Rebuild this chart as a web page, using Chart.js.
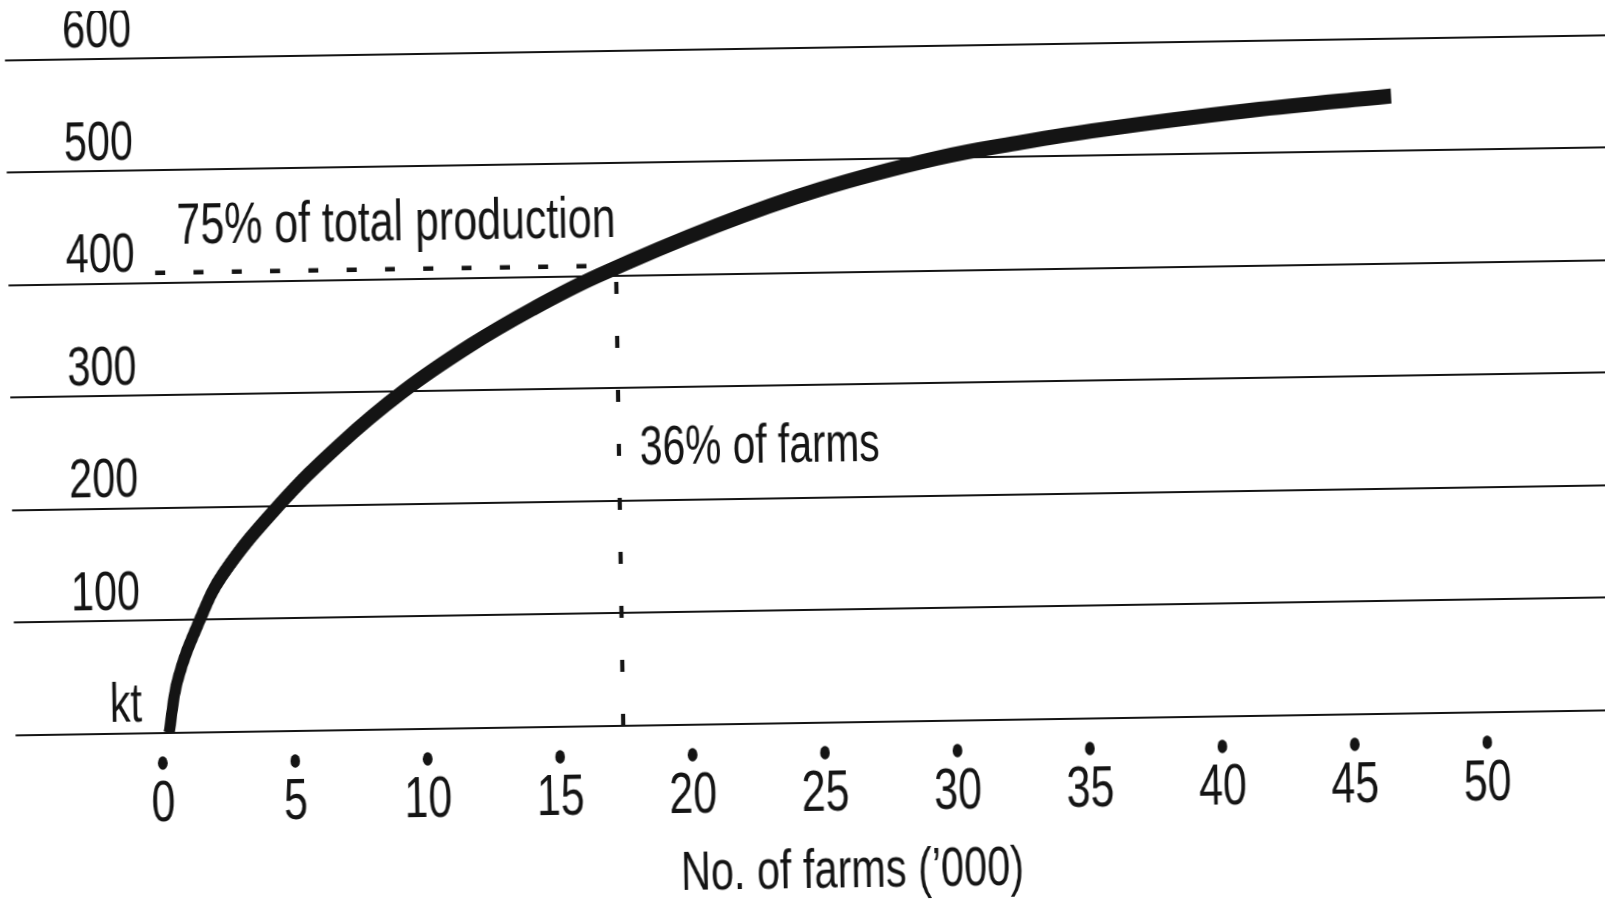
<!DOCTYPE html>
<html>
<head>
<meta charset="utf-8">
<script src="https://cdn.jsdelivr.net/npm/chart.js@4/dist/chart.umd.min.js"></script>
<style>
  html, body { margin: 0; padding: 0; background: #ffffff; overflow: hidden; width: 1605px; height: 907px; }
  /* the scanned original is slightly tilted and horizontally compressed */
  #wrap { position: absolute; left: 0; top: 0; width: 1680px; height: 907px;
          transform-origin: 802.5px 453.5px; transform: rotate(-0.9deg); }
  canvas { display: block; width: 2270px; height: 907px; transform-origin: 0 0; transform: scaleX(0.74); }
</style>
</head>
<body>
<div id="wrap"><canvas id="c" width="2270" height="907"></canvas></div>
<script>
// ---- data ----
const farms      = [0.25, 0.62, 1.48, 2.37, 4.5, 6.87, 9.28, 11.84, 14.25, 16.68, 21.2, 25.15, 29.58, 32.8, 35.76, 41.42, 46.76]; // '000 farms
const production = [0,    48,   100,  140,  200, 254,  300,  340,   372,   400,   443,  474,   500,   513,  523,   538,   549];   // kt
const xTicks = [0, 5, 10, 15, 20, 25, 30, 35, 40, 45, 50];
const yTicks = [0, 100, 200, 300, 400, 500, 600];
const yTickLabels = ['kt', '100', '200', '300', '400', '500', '600'];
const thresholdFarms = 17.4;        // 36% of farms
const thresholdProduction = 409;    // 75% of total production
const labelProduction = '75% of total production';
const labelFarms = '36% of farms';
const xTitle = "No. of farms (\u2019000)";

// ---- styling ----
const K = 0.74;                      // horizontal compression applied by CSS
const FONT = "'Liberation Sans', Arial, sans-serif";
const INK = '#141414';
const AREA_LEFT = 12 / K;
const Y_LABEL_RIGHT = 138 / K;
const yTickFont = { family: FONT, size: 56, lineHeight: 1 };
const xTickFont = { family: FONT, size: 58, lineHeight: 1 };

const mctx = document.createElement('canvas').getContext('2d');
mctx.font = '56px ' + FONT;
const widest = Math.max(...yTickLabels.map(t => mctx.measureText(t).width));

const roundTickCaps = {
  id: 'roundTickCaps',
  beforeDraw(chart) { chart.ctx.lineCap = 'round'; }
};

const annotations = {
  id: 'annotations',
  afterDatasetsDraw(chart) {
    const { ctx, scales: { x, y } } = chart;
    ctx.save();
    ctx.fillStyle = INK;
    ctx.textAlign = 'left';
    ctx.textBaseline = 'alphabetic';
    ctx.font = '58px ' + FONT;
    ctx.fillText(labelProduction, x.getPixelForValue(0) + 22 / K, y.getPixelForValue(400) - 39);
    ctx.font = '55px ' + FONT;
    ctx.fillText(labelFarms, x.getPixelForValue(thresholdFarms) + 21 / K, y.getPixelForValue(200) - 36);
    ctx.restore();
  }
};

new Chart(document.getElementById('c'), {
  type: 'line',
  data: {
    datasets: [
      {
        data: farms.map((f, i) => ({ x: f, y: production[i] })),
        borderColor: INK,
        borderWidth: 15,
        borderCapStyle: 'butt',
        pointRadius: 0,
        tension: 0.4,
        fill: false
      },
      {
        data: [{ x: 0, y: thresholdProduction }, { x: thresholdFarms, y: thresholdProduction }],
        borderColor: INK,
        borderWidth: 4.5,
        borderDash: [10 / K, 28.3 / K],
        pointRadius: 0,
        fill: false
      },
      {
        data: [{ x: thresholdFarms, y: 0 }, { x: thresholdFarms, y: thresholdProduction }],
        borderColor: INK,
        borderWidth: 5.4,
        borderDash: [12, 42],
        pointRadius: 0,
        fill: false
      }
    ]
  },
  options: {
    responsive: false,
    animation: false,
    devicePixelRatio: 1,
    layout: { padding: { top: 47.8, left: 0, right: 0, bottom: 0 } },
    plugins: { legend: { display: false }, tooltip: { enabled: false } },
    scales: {
      x: {
        type: 'linear',
        min: -5.516,
        max: 57.45,
        afterBuildTicks: s => { s.ticks = xTicks.map(v => ({ value: v })); },
        grid: {
          drawOnChartArea: false,
          drawTicks: true,
          tickLength: 36,
          tickWidth: 13,
          tickColor: INK,
          tickBorderDash: [0.5, 2000],
          tickBorderDashOffset: -29.75
        },
        border: { display: false },
        ticks: { font: xTickFont, color: INK, padding: 7, maxRotation: 0, autoSkip: false },
        title: {
          display: true,
          text: xTitle,
          color: INK,
          font: { family: FONT, size: 56, lineHeight: 1 },
          padding: { top: 14, bottom: 6 }
        }
      },
      y: {
        type: 'linear',
        min: 0,
        max: 600,
        afterBuildTicks: s => { s.ticks = yTicks.map(v => ({ value: v })); },
        afterFit: s => {
          s.width = AREA_LEFT;
          s.paddingTop = 0; s.paddingBottom = 0; s.paddingLeft = 0; s.paddingRight = 0;
        },
        grid: { color: INK, lineWidth: 2, drawTicks: false },
        border: { display: false },
        ticks: {
          mirror: true,
          crossAlign: 'far',
          padding: Y_LABEL_RIGHT - AREA_LEFT - widest,
          labelOffset: -27,
          font: yTickFont,
          color: INK,
          callback: v => yTickLabels[yTicks.indexOf(v)]
        }
      }
    }
  },
  plugins: [roundTickCaps, annotations]
});
</script>
</body>
</html>
